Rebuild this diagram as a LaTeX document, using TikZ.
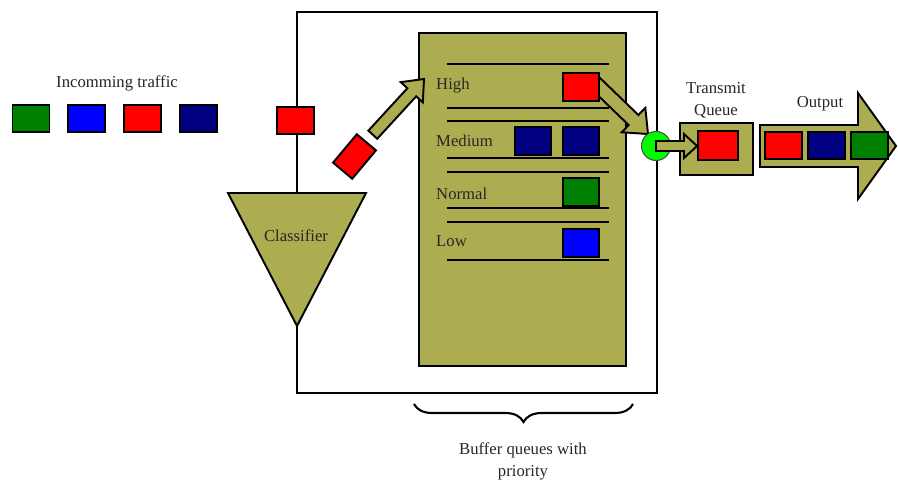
\documentclass[tikz,border=0pt]{standalone}
\usepackage{fontspec}
\setmainfont{Liberation Serif}
\usetikzlibrary{positioning,calc,decorations.pathreplacing}

\definecolor{olivebox}{RGB}{171,173,80}
\definecolor{darkgreen}{RGB}{0,128,0}
\definecolor{navy}{RGB}{0,0,128}
\definecolor{litegreen}{RGB}{0,250,0}

% broad arrow: tail, tip, shaft half width, head half width, head length
\newcommand{\fatarrow}[5]{%
  \filldraw[fat arrow] let \p1=(#1), \p2=(#2),
      \n1={atan2(\y2-\y1,\x2-\x1)}, \n2={veclen(\x2-\x1,\y2-\y1)} in
    ($(\p1)+(\n1+90:#3)$) -- ($(\p1)+(\n1:\n2-#5)+(\n1+90:#3)$)
    -- ($(\p1)+(\n1:\n2-#5)+(\n1+90:#4)$) -- (\p2)
    -- ($(\p1)+(\n1:\n2-#5)+(\n1-90:#4)$) -- ($(\p1)+(\n1:\n2-#5)+(\n1-90:#3)$)
    -- ($(\p1)+(\n1-90:#3)$) -- cycle;}

\begin{document}
\begin{tikzpicture}[x=0.02cm, y=-0.02cm,
    every node/.style={font=\fontsize{9.5}{12.5}\selectfont, text=black!85},
    packet/.style={draw, line width=1.1pt, minimum width=0.74cm, minimum height=0.55cm, inner sep=0pt},
    queue line/.style={line width=1.6pt},
    fat arrow/.style={draw=black, fill=olivebox, line width=1.1pt, line join=miter},
    box/.style={draw, fill=olivebox, line width=1.6pt, inner sep=0pt}]
    \useasboundingbox (0,0) rectangle (898,483);

    % incoming traffic
    \node (incoming) at (117,83) {Incomming traffic};
    \node[packet, fill=darkgreen] (in1) at (31,118.5) {};
    \node[packet, fill=blue, right=0.34cm of in1] (in2) {};
    \node[packet, fill=red, right=0.34cm of in2] (in3) {};
    \node[packet, fill=navy, right=0.34cm of in3] (in4) {};

    % router frame and classifier
    \coordinate (cls tl) at (228,193);
    \coordinate (cls tr) at (366,193);
    \coordinate (cls top) at (297,193);
    \coordinate (cls apex) at (297,326);
    \coordinate (frame nw) at (297,12);
    \coordinate (frame ne) at (657,12);
    \coordinate (frame se) at (657,393);
    \coordinate (frame sw) at (297,393);
    \draw[line width=0.8pt] (cls top) -- (frame nw) -- (frame ne) -- (frame se) -- (frame sw) -- (cls apex);
    \filldraw[fill=olivebox, line width=1.1pt] (cls tl) -- (cls tr) -- (cls apex) -- cycle;
    \node (classifier) at (296,236) {Classifier};
    \node[packet, fill=red] (arriving) at (295.5,120.5) {};
    \node[packet, fill=red, minimum height=0.5cm, rotate=50] (tilt) at (354.5,156.5) {};

    % buffer queues
    \node[box, minimum width=4.14cm, minimum height=6.66cm] (buffer) at (522.5,199.5) {};
    \foreach \y in {64,108,121,158,172,208,222,260}
        \draw[queue line] (447,\y) -- (609,\y);
    \node[anchor=west] (lbl high) at (430,86) {High};
    \node[anchor=west] (lbl medium) at (430,141) {Medium};
    \node[anchor=west] (lbl normal) at (430,194) {Normal};
    \node[anchor=west] (lbl low) at (430,241) {Low};

    \coordinate (a1 tail) at ($(tilt.east)+(50:0.18cm)$);
    \coordinate (a1 tip) at (424,79);
    \fatarrow{a1 tail}{a1 tip}{0.12cm}{0.3cm}{0.36cm}

    \coordinate (a2 tail) at (592,80);
    \coordinate (a2 tip) at (648,134);
    \fatarrow{a2 tail}{a2 tip}{0.14cm}{0.34cm}{0.4cm}

    \node[packet, fill=red, minimum width=0.72cm] (high1) at (581,87) {};
    \node[packet, fill=navy, minimum width=0.72cm] (med2) at (581,141) {};
    \node[packet, fill=navy, minimum width=0.72cm, left=0.2cm of med2] (med1) {};
    \node[packet, fill=darkgreen, minimum width=0.72cm] (norm1) at (581,192) {};
    \node[packet, fill=blue, minimum width=0.72cm] (low1) at (581,243) {};

    % scheduler and transmit queue
    \node[circle, draw=black!70, fill=litegreen, minimum size=0.58cm, inner sep=0pt, line width=0.6pt] (sched) at (656,146) {};
    \node[box, minimum width=1.46cm, minimum height=1.04cm] (txq) at (716.5,149) {};
    \node[align=center] (txq label) at (716,100) {Transmit\\Queue};
    \coordinate (a3 tip) at (697,146);
    \fatarrow{sched.center}{a3 tip}{0.1cm}{0.24cm}{0.26cm}
    \node[packet, fill=red, minimum width=0.8cm, minimum height=0.58cm] (tx1) at (718,145.5) {};

    % output
    \node (output label) at (820,104) {Output};
    \coordinate (out tail) at (760,146);
    \coordinate (out tip) at (896,146);
    \fatarrow{out tail}{out tip}{0.42cm}{1.06cm}{0.76cm}
    \node[packet, fill=red] (out1) at (783.5,145.5) {};
    \node[packet, fill=navy, right=0.08cm of out1] (out2) {};
    \node[packet, fill=darkgreen, right=0.08cm of out2] (out3) {};

    % brace
    \coordinate (br left) at (414,404);
    \coordinate (br right) at (633,404);
    \draw[decorate, decoration={brace, mirror, amplitude=0.36cm}, line width=1.2pt] (br left) -- (br right);
    \node[align=center] (buf label) at (523,461) {Buffer queues with\\priority};
\end{tikzpicture}
\end{document}
